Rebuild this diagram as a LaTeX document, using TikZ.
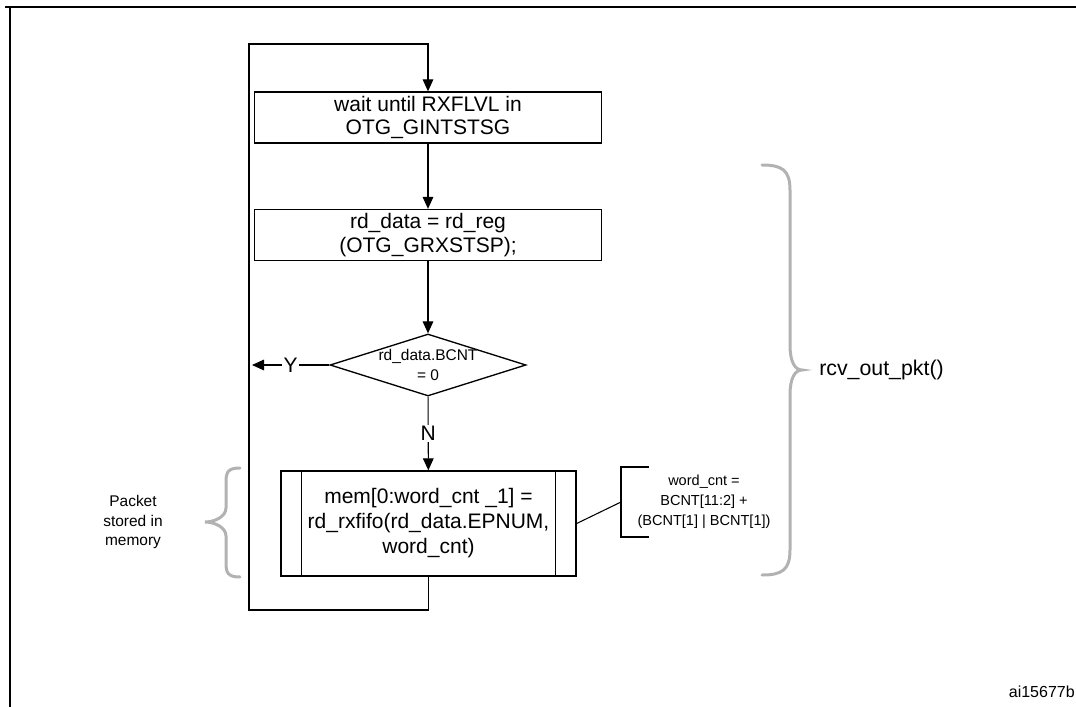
\documentclass[tikz,border=0pt]{standalone}
\usepackage{fontspec}
\setmainfont{Liberation Sans}
\usetikzlibrary{shapes.geometric,arrows.meta}
\definecolor{bracegray}{RGB}{178,178,178}

\begin{document}
\begin{tikzpicture}[x=0.75pt,y=-0.75pt,
    box/.style={draw,line width=1pt,minimum width=260pt,minimum height=38.25pt,inner sep=0pt,align=center,font=\fontsize{15.75}{17.5}\selectfont},
    decision/.style={draw,line width=1pt,diamond,aspect=3.2,minimum width=147pt,minimum height=46.5pt,inner sep=0pt},
    small/.style={align=center,font=\fontsize{11.6}{14.4}\selectfont},
    yn/.style={fill=white,inner sep=1pt,font=\fontsize{15.75}{17.5}\selectfont},
    flow/.style={line width=0.8pt,-{Triangle[length=9pt,width=8pt]}},
    wire/.style={line width=0.8pt},
    curly/.style={bracegray,line width=2.25pt,line cap=round}]
    \useasboundingbox (0,0) rectangle (1076,707);

    % frame
    \draw[line width=1.6pt] (10,707) -- (10,7);
    \draw[line width=1.6pt] (5,7) -- (1076,7);

    % flow steps
    \node[box] (wait) at (428,117.5) {wait until RXFLVL in\\OTG\_GINTSTSG};
    \node[box] (rd) at (428,235) {rd\_data = rd\_reg\\(OTG\_GRXSTSP);};
    \node[decision] (bcnt) at (428,365) {};
    \node[small] (bcnttxt) at (bcnt) {rd\_data.BCNT\\= 0};
    \node[box,minimum width=221.25pt,minimum height=78.75pt,font=\fontsize{15.75}{18.75}\selectfont] (mem) at (428.5,523.5) {mem[0:word\_cnt \_1] =\\rd\_rxfifo(rd\_data.EPNUM,\\word\_cnt)};
    \draw[line width=1pt] ([xshift=15.75pt]mem.north west) -- ([xshift=15.75pt]mem.south west);
    \draw[line width=1pt] ([xshift=-15.75pt]mem.north east) -- ([xshift=-15.75pt]mem.south east);

    % connectors
    \coordinate (back) at (252,365);
    \coordinate (loopbot) at (249,610);
    \coordinate (looptop) at (249,44);
    \draw[flow] (wait) -- (rd);
    \draw[flow] (rd) -- (bcnt);
    \draw[flow] (bcnt) -- node[yn] {N} (mem);
    \draw[flow] (bcnt.west) -- node[yn] {Y} (back);
    \draw[flow] (mem.south) |- (loopbot) -- (looptop) -| (wait.north);

    % word count note
    \node[align=center,font=\fontsize{10.9}{15}\selectfont] (wcnt) at (704,502) {word\_cnt =\\BCNT[11:2] +\\(BCNT[1] | BCNT[1])};
    \coordinate (brk) at (621,502);
    \draw[wire] (649,467) -- (621,467) -- (621,537) -- (649,537);
    \draw[wire] (mem.east) -- (brk);

    % braces
    \draw[curly] (762,165) .. controls (782,165) and (790,170) .. (790,190) -- (790,345)
        .. controls (790,362) and (795,370) .. (802,370)
        .. controls (795,370) and (790,378) .. (790,395) -- (790,550)
        .. controls (790,570) and (782,575) .. (762,575);
    \node[anchor=west,inner sep=0pt,font=\fontsize{16}{19}\selectfont] (rcv) at (819,370) {rcv\_out\_pkt()};
    \draw[curly] (240,468) .. controls (228,468) and (226,472) .. (226,482) -- (226,508)
        .. controls (226,517) and (214,522) .. (205,522)
        .. controls (214,522) and (226,527) .. (226,536) -- (226,563)
        .. controls (226,573) and (228,577) .. (240,577);
    \node[small] (pkt) at (133,522) {Packet\\stored in\\memory};

    \node[anchor=east,inner sep=0pt,font=\fontsize{12}{14}\selectfont] (ref) at (1075,692) {ai15677b};
\end{tikzpicture}
\end{document}
